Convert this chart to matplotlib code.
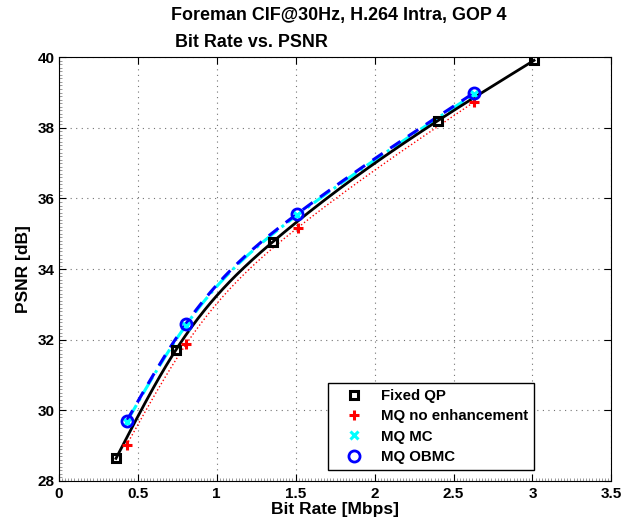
import numpy as np
import matplotlib
matplotlib.use('Agg')
import matplotlib.pyplot as plt
from matplotlib.ticker import MultipleLocator

plt.rcParams['font.family'] = ['Liberation Sans', 'DejaVu Sans']
plt.rcParams['font.weight'] = 'bold'

# rate / psnr points
rate_fixed = [0.363, 0.742, 1.358, 2.40, 3.01]
psnr_fixed = [28.64, 31.71, 34.78, 38.20, 39.91]

rate_mq = [0.43, 0.806, 1.513, 2.63]
psnr_mq = [29.02, 31.87, 35.17, 38.73]

rate_mc = [0.43, 0.804, 1.508, 2.63]
psnr_mc = [29.67, 32.40, 35.52, 38.95]

rate_obmc = [0.43, 0.804, 1.506, 2.63]
psnr_obmc = [29.70, 32.44, 35.55, 38.99]

title1 = 'Foreman CIF@30Hz, H.264 Intra, GOP 4'
title2 = 'Bit Rate vs. PSNR'
labels = ['Fixed QP', 'MQ no enhancement', 'MQ MC', 'MQ OBMC']


def smooth(x, y, n=200):
    # natural cubic spline through the points, only for drawing the curve
    x = np.asarray(x, float)
    y = np.asarray(y, float)
    k = len(x)
    h = np.diff(x)
    A = np.zeros((k, k))
    b = np.zeros(k)
    A[0, 0] = A[-1, -1] = 1
    for i in range(1, k - 1):
        A[i, i - 1] = h[i - 1]
        A[i, i] = 2 * (h[i - 1] + h[i])
        A[i, i + 1] = h[i]
        b[i] = 6 * ((y[i + 1] - y[i]) / h[i] - (y[i] - y[i - 1]) / h[i - 1])
    m = np.linalg.solve(A, b)
    xs = np.linspace(x[0], x[-1], n)
    j = np.clip(np.searchsorted(x, xs) - 1, 0, k - 2)
    t0 = x[j + 1] - xs
    t1 = xs - x[j]
    hj = h[j]
    ys = (m[j] * t0**3 + m[j + 1] * t1**3) / (6 * hj) \
        + (y[j] / hj - m[j] * hj / 6) * t0 + (y[j + 1] / hj - m[j + 1] * hj / 6) * t1
    return xs, ys


fig = plt.figure(figsize=(6.42, 5.2), dpi=100)
ax = fig.add_axes([0.0914, 0.075, 0.861, 0.815])

# curves
ax.plot(*smooth(rate_mq, psnr_mq), ':', color='red', lw=1.0)
ax.plot(*smooth(rate_mc, psnr_mc), '-.', color='cyan', lw=2.2)
ax.plot(*smooth(rate_obmc, psnr_obmc), '--', color='blue', lw=2.2, dashes=(4, 3))
ax.plot(*smooth(rate_fixed, psnr_fixed), '-', color='black', lw=2.0)

# markers (these make the legend)
ax.plot(rate_fixed, psnr_fixed, 's', ls='none', mfc='none', mec='black',
        mew=2.2, ms=6, label=labels[0])
ax.plot(rate_mq, psnr_mq, '+', ls='none', color='red', mew=2.2, ms=7,
        label=labels[1])
ax.plot(rate_mc, psnr_mc, 'x', ls='none', color='cyan', mew=2.2, ms=6,
        label=labels[2])
ax.plot(rate_obmc, psnr_obmc, 'o', ls='none', mfc='none', mec='blue',
        mew=2.0, ms=8, label=labels[3])

ax.set_xlim(0, 3.5)
ax.set_ylim(28, 40)
ax.xaxis.set_major_locator(MultipleLocator(0.5))
ax.yaxis.set_major_locator(MultipleLocator(2))
ax.xaxis.set_minor_locator(MultipleLocator(0.02))
ax.yaxis.set_minor_locator(MultipleLocator(0.1))
ax.set_xticks(np.arange(0, 3.51, 0.5))
ax.set_xticklabels(['0', '0.5', '1', '1.5', '2', '2.5', '3', '3.5'])
ax.tick_params(which='major', direction='in', length=5, width=0.8,
               labelsize=11, top=True, right=True)
ax.tick_params(axis='x', which='major', pad=4)
ax.tick_params(axis='y', which='major', pad=3)
ax.tick_params(which='minor', direction='in', length=2, width=0.5,
               color='0.45', top=False, right=False)
for lab in ax.get_xticklabels() + ax.get_yticklabels():
    lab.set_fontweight('bold')
ax.grid(True, which='major', ls=(0, (1, 4)), color='0.45', lw=0.8)
for s in ax.spines.values():
    s.set_linewidth(0.8)

ax.set_xlabel('Bit Rate [Mbps]', fontsize=12.5, fontweight='bold', labelpad=1)
ax.set_ylabel('PSNR [dB]', fontsize=12.5, fontweight='bold', labelpad=5)

fig.text(0.527, 0.971, title1, ha='center', va='center', fontsize=12.9,
         fontweight='bold')
fig.text(0.273, 0.919, title2, ha='left', va='center', fontsize=12.9,
         fontweight='bold')

leg = ax.legend(loc='lower left', bbox_to_anchor=(0.4875, 0.026),
                fancybox=False, framealpha=1, edgecolor='black',
                prop={'weight': 'bold', 'size': 10.8}, borderpad=0.4,
                handletextpad=0.5, labelspacing=0.42, handlelength=2.6,
                borderaxespad=0)
leg.get_frame().set_linewidth(1.0)

fig.savefig('out.png', dpi=100)
